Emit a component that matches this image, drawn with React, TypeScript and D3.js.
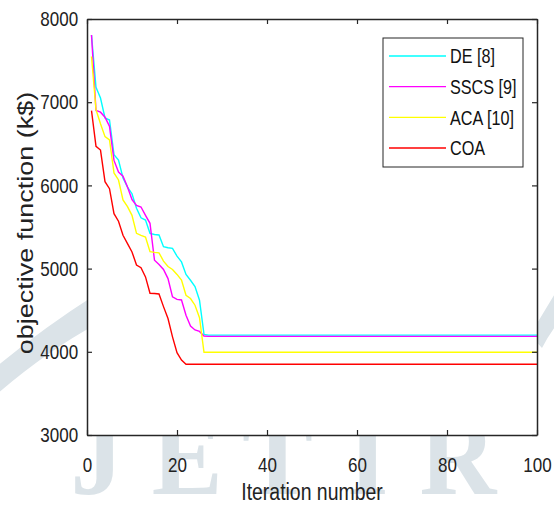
import React, { useEffect, useRef } from 'react';
import * as d3 from 'd3';

// iteration index of each breakpoint (the curves are flat after iteration 27)
const iterations = [1, 2, 3, 4, 5, 6, 7, 8, 9, 10, 11, 12, 13, 14, 15, 16, 17, 18, 19, 20, 21, 22, 23, 24, 25, 26, 27, 100];

const deValues = [7808, 7180, 7050, 6810, 6786, 6370, 6305, 6090, 5980, 5900, 5725, 5610, 5584, 5424, 5410, 5404, 5264, 5250, 5244, 5150, 5080, 4930, 4860, 4783, 4620, 4210, 4200, 4200];
const sscsValues = [7808, 6900, 6880, 6820, 6710, 6300, 6160, 6110, 5980, 5830, 5760, 5740, 5640, 5544, 5100, 5050, 4990, 4880, 4660, 4630, 4623, 4440, 4310, 4262, 4245, 4190, 4185, 4185];
const acaValues = [7550, 6910, 6740, 6586, 6546, 6150, 6065, 5825, 5745, 5640, 5424, 5400, 5380, 5203, 5195, 5190, 5090, 5025, 4990, 4930, 4863, 4680, 4640, 4560, 4410, 3995, 3995, 3995];
const coaValues = [6898, 6470, 6425, 6045, 5960, 5660, 5570, 5400, 5300, 5200, 5043, 5010, 4900, 4703, 4700, 4695, 4543, 4400, 4180, 3990, 3900, 3850, 3850, 3850, 3850, 3850, 3850, 3850];

const seriesNames = ['DE [8]', 'SSCS [9]', 'ACA [10]', 'COA'];
const seriesColors = ['#00ffff', '#ff00ff', '#ffff00', '#ff0000'];
const seriesValues = [deValues, sscsValues, acaValues, coaValues];

const xTicks = [0, 20, 40, 60, 80, 100];
const yTicks = [3000, 4000, 5000, 6000, 7000, 8000];

const watermarkLetters = ['J', 'E', 'T', 'I', 'R'];

const W = 554, H = 511;
const FONT = '"Liberation Sans", Arial, sans-serif';
const SQUEEZE = 0.81; // the source picture is squeezed horizontally

export default function App() {
    const ref = useRef<SVGSVGElement>(null);

    useEffect(() => {
        const svg = d3.select(ref.current);
        svg.selectAll('*').remove();

        const m = { left: 87, right: 537, top: 19, bottom: 435 };

        const x = d3.scaleLinear().domain([0, 100]).range([m.left, m.right]);
        const y = d3.scaleLinear().domain([3000, 8000]).range([m.bottom, m.top]);

        // watermark behind the axes
        const wm = svg.append('g').attr('fill', '#dbe3e8').attr('stroke', 'none');
        wm.append('path')
            .attr('d', 'M -10 372 Q 40 330 95 295 L 95 325 Q 45 352 -10 400 Z');
        wm.append('path')
            .attr('d', 'M 530 335 Q 545 310 562 282 L 562 318 Q 550 332 542 348 Z');
        const wmX = d3.scalePoint<string>().domain(watermarkLetters).range([97, 458]);
        wm.selectAll('text.wm')
            .data(watermarkLetters)
            .enter()
            .append('text')
            .attr('class', 'wm')
            .attr('transform', d => 'translate(' + wmX(d) + ',' + 494 + ') scale(0.95,1)')
            .attr('text-anchor', 'middle')
            .attr('font-family', '"Liberation Serif", "DejaVu Serif", serif')
            .attr('font-weight', 'bold')
            .attr('font-size', 112)
            .text(d => d);

        // plot background
        svg.append('rect')
            .attr('x', m.left).attr('y', m.top)
            .attr('width', m.right - m.left).attr('height', m.bottom - m.top)
            .attr('fill', '#fff');

        // curves
        const line = d3.line<number>()
            .x((d, i) => x(iterations[i]))
            .y(d => y(d));

        svg.append('g')
            .selectAll('path')
            .data(seriesValues)
            .enter()
            .append('path')
            .attr('d', d => line(d))
            .attr('fill', 'none')
            .attr('stroke', (d, i) => seriesColors[i])
            .attr('stroke-width', 1.4);

        // axes (matlab style: ticks inside, on all four sides)
        const axisColor = '#262626';
        const styleAxis = (g: any) => {
            g.select('.domain').attr('stroke', axisColor).attr('stroke-width', 1.5);
            g.selectAll('.tick line').attr('stroke', axisColor).attr('stroke-width', 1.2);
            g.selectAll('.tick text')
                .attr('fill', '#222')
                .attr('font-family', FONT)
                .attr('font-size', 21)
                .attr('transform', 'scale(' + SQUEEZE + ',1)');
        };

        svg.append('g')
            .attr('transform', 'translate(0,' + m.bottom + ')')
            .call(d3.axisBottom(x).tickValues(xTicks).tickFormat(d3.format('d'))
                .tickSizeInner(-5).tickSizeOuter(0).tickPadding(22))
            .call(styleAxis);

        svg.append('g')
            .attr('transform', 'translate(' + m.left + ',0)')
            .call(d3.axisLeft(y).tickValues(yTicks).tickFormat(d3.format('d'))
                .tickSizeInner(-5).tickSizeOuter(0).tickPadding(11))
            .call(styleAxis);

        svg.append('g')
            .attr('transform', 'translate(0,' + m.top + ')')
            .call(d3.axisTop(x).tickValues(xTicks).tickSizeInner(-5).tickSizeOuter(0).tickFormat(() => ''))
            .call(styleAxis);

        svg.append('g')
            .attr('transform', 'translate(' + m.right + ',0)')
            .call(d3.axisRight(y).tickValues(yTicks).tickSizeInner(-5).tickSizeOuter(0).tickFormat(() => ''))
            .call(styleAxis);

        svg.selectAll('.domain').attr('fill', 'none');

        // axis titles
        svg.append('text')
            .attr('transform', 'translate(' + (m.left + m.right) / 2 + ',500) scale(' + SQUEEZE + ',1)')
            .attr('text-anchor', 'middle')
            .attr('font-family', FONT)
            .attr('font-size', 24)
            .attr('fill', '#222')
            .text('Iteration number');

        svg.append('text')
            .attr('transform', 'translate(33,223) rotate(-90) scale(1,' + SQUEEZE + ')')
            .attr('text-anchor', 'middle')
            .attr('font-family', FONT)
            .attr('font-size', 27)
            .attr('fill', '#222')
            .text('objective function (k$)');

        // legend
        const legend = svg.append('g');
        legend.append('rect')
            .attr('x', 383).attr('y', 38)
            .attr('width', 140).attr('height', 129)
            .attr('fill', '#fff')
            .attr('stroke', axisColor)
            .attr('stroke-width', 1);

        const rowY = d3.scalePoint<string>().domain(seriesNames).range([56, 148]);
        const rows = legend.selectAll('g.row')
            .data(seriesNames)
            .enter()
            .append('g')
            .attr('class', 'row')
            .attr('transform', d => 'translate(0,' + rowY(d) + ')');
        rows.append('line')
            .attr('x1', 389).attr('x2', 446)
            .attr('stroke', (d, i) => seriesColors[i])
            .attr('stroke-width', 1.4);
        rows.append('text')
            .attr('transform', 'translate(450,0) scale(' + SQUEEZE + ',1)')
            .attr('dy', '0.36em')
            .attr('font-family', FONT)
            .attr('font-size', 20)
            .attr('fill', '#111')
            .text(d => d);
    }, []);

    return (
        <svg ref={ref} width={W} height={H}
             style={{ position: 'absolute', left: 0, top: 0, background: '#fff' }} />
    );
}
